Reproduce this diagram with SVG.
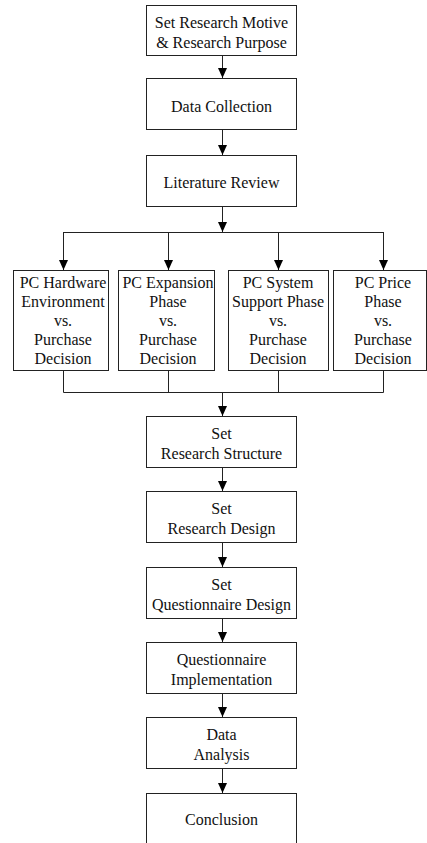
<svg xmlns="http://www.w3.org/2000/svg" width="427" height="843" viewBox="0 0 427 843">
  <defs>
    <marker id="arrow" markerUnits="userSpaceOnUse" markerWidth="10" markerHeight="10" refX="10" refY="5" orient="auto">
      <path d="M0,0.5 L10,5 L0,9.5 z" fill="#000"/>
    </marker>
    <style>
      rect { fill: #fff; stroke: #222; stroke-width: 1; }
      text { font-family: "Liberation Serif", "Times New Roman", serif; font-size: 16px; fill: #111; text-anchor: middle; }
      .conn line, .conn polyline { stroke: #222; stroke-width: 1; fill: none; }
    </style>
  </defs>
  <rect x="0" y="0" width="427" height="843" style="fill:#fff;stroke:none"/>

  <!-- connectors -->
  <g class="conn" id="connectors">
    <line x1="222.5" y1="55" x2="222.5" y2="78" marker-end="url(#arrow)"/>
    <line x1="222.5" y1="130" x2="222.5" y2="155" marker-end="url(#arrow)"/>
    <line x1="222.5" y1="207" x2="222.5" y2="232" marker-end="url(#arrow)"/>
    <line x1="63.5" y1="232.5" x2="383.5" y2="232.5"/>
    <line x1="63.5" y1="232" x2="63.5" y2="270" marker-end="url(#arrow)"/>
    <line x1="168.5" y1="232" x2="168.5" y2="270" marker-end="url(#arrow)"/>
    <line x1="278.5" y1="232" x2="278.5" y2="270" marker-end="url(#arrow)"/>
    <line x1="383.5" y1="232" x2="383.5" y2="270" marker-end="url(#arrow)"/>
    <polyline points="63.5,370 63.5,392.5 383.5,392.5 383.5,370"/>
    <line x1="168.5" y1="370" x2="168.5" y2="392.5"/>
    <line x1="278.5" y1="370" x2="278.5" y2="392.5"/>
    <line x1="222.5" y1="392" x2="222.5" y2="416" marker-end="url(#arrow)"/>
    <line x1="222.5" y1="467" x2="222.5" y2="491" marker-end="url(#arrow)"/>
    <line x1="222.5" y1="542" x2="222.5" y2="567" marker-end="url(#arrow)"/>
    <line x1="222.5" y1="618" x2="222.5" y2="642" marker-end="url(#arrow)"/>
    <line x1="222.5" y1="693" x2="222.5" y2="717" marker-end="url(#arrow)"/>
    <line x1="222.5" y1="768" x2="222.5" y2="793" marker-end="url(#arrow)"/>
  </g>

  <g id="motive">
    <rect x="146.5" y="5.5" width="150" height="50"/>
    <text x="221.5" y="28">Set Research Motive</text>
    <text x="221.5" y="48">&amp; Research Purpose</text>
  </g>
  <g id="collection">
    <rect x="146.5" y="78.5" width="150" height="51"/>
    <text x="221.5" y="111.5">Data Collection</text>
  </g>
  <g id="literature">
    <rect x="146.5" y="155.5" width="150" height="51"/>
    <text x="221.5" y="187.5">Literature Review</text>
  </g>

  <g id="hardware">
    <rect x="13.5" y="270.5" width="95" height="100"/>
    <text x="63" y="288">PC Hardware</text>
    <text x="63" y="307">Environment</text>
    <text x="63" y="326">vs.</text>
    <text x="63" y="345">Purchase</text>
    <text x="63" y="364">Decision</text>
  </g>
  <g id="expansion">
    <rect x="118.5" y="270.5" width="96" height="100"/>
    <text x="168" y="288">PC Expansion</text>
    <text x="168" y="307">Phase</text>
    <text x="168" y="326">vs.</text>
    <text x="168" y="345">Purchase</text>
    <text x="168" y="364">Decision</text>
  </g>
  <g id="support">
    <rect x="228.5" y="270.5" width="100" height="100"/>
    <text x="278" y="288">PC System</text>
    <text x="278" y="307">Support Phase</text>
    <text x="278" y="326">vs.</text>
    <text x="278" y="345">Purchase</text>
    <text x="278" y="364">Decision</text>
  </g>
  <g id="price">
    <rect x="333.5" y="270.5" width="93" height="100"/>
    <text x="383" y="288">PC Price</text>
    <text x="383" y="307">Phase</text>
    <text x="383" y="326">vs.</text>
    <text x="383" y="345">Purchase</text>
    <text x="383" y="364">Decision</text>
  </g>

  <g id="structure">
    <rect x="146.5" y="416.5" width="150" height="51"/>
    <text x="221.5" y="439">Set</text>
    <text x="221.5" y="459">Research Structure</text>
  </g>
  <g id="design">
    <rect x="146.5" y="491.5" width="150" height="51"/>
    <text x="221.5" y="514">Set</text>
    <text x="221.5" y="534">Research Design</text>
  </g>
  <g id="questionnaire">
    <rect x="146.5" y="567.5" width="150" height="51"/>
    <text x="221.5" y="590">Set</text>
    <text x="221.5" y="610">Questionnaire Design</text>
  </g>
  <g id="implementation">
    <rect x="146.5" y="642.5" width="150" height="51"/>
    <text x="221.5" y="665">Questionnaire</text>
    <text x="221.5" y="685">Implementation</text>
  </g>
  <g id="analysis">
    <rect x="146.5" y="717.5" width="150" height="51"/>
    <text x="221.5" y="740">Data</text>
    <text x="221.5" y="760">Analysis</text>
  </g>
  <g id="conclusion">
    <rect x="146.5" y="793.5" width="150" height="51"/>
    <text x="221.5" y="825">Conclusion</text>
  </g>
</svg>
